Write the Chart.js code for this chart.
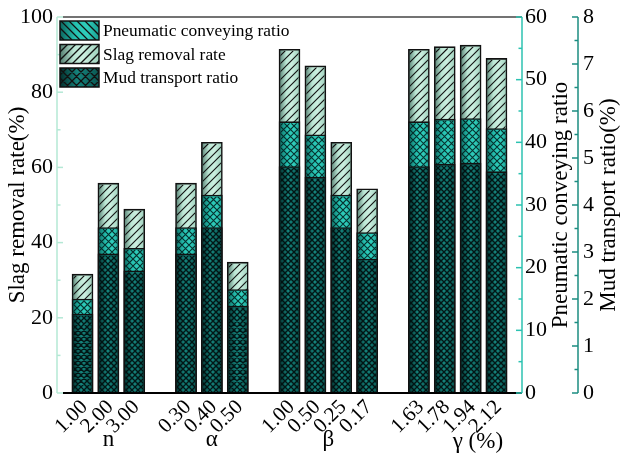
<!DOCTYPE html>
<html>
<head>
<meta charset="utf-8">
<script src="https://cdn.jsdelivr.net/npm/chart.js@4"></script>
<style>
  html, body { margin: 0; padding: 0; background: #fff; }
</style>
</head>
<body>
<canvas id="chart" width="620" height="459"></canvas>
<script>
// groups on the x axis and the tick labels inside each group
const groups = ['n', 'α', 'β', 'γ'];
const groupTicks = [
  ['1.00', '2.00', '3.00'],
  ['0.30', '0.40', '0.50'],
  ['1.00', '0.50', '0.25', '0.17'],
  ['1.63', '1.78', '1.94', '2.12']
];
// values, one per bar, in the same order
const slagRemoval = [31.6, 55.8, 48.9, 55.8, 66.7, 34.8, 91.4, 87.0, 66.7, 54.3, 91.4, 92.1, 92.5, 89.0];
const pneumaticRatio = [15.0, 26.4, 23.1, 26.4, 31.6, 16.5, 43.3, 41.2, 31.6, 25.6, 43.3, 43.7, 43.8, 42.2];
const mudRatio = [1.68, 2.96, 2.60, 2.96, 3.52, 1.85, 4.82, 4.59, 3.52, 2.85, 4.82, 4.87, 4.89, 4.71];

// bar positions: one empty slot between groups
const positions = [];
const tickLabels = [];
const groupCenters = [];
let p = 0;
groupTicks.forEach(g => {
  const start = p;
  g.forEach(t => { positions.push(p); tickLabels[p] = t; p++; });
  groupCenters.push((start + p - 1) / 2);
  p++;
});
const lastPos = p - 2;

const serif = 'Liberation Serif';

function barGradient(stops, flat) {
  return (c) => {
    if (c.type !== 'data' || !c.chart.chartArea) return flat;
    const x = c.chart.scales.x.getPixelForValue(c.parsed.x);
    const g = c.chart.ctx.createLinearGradient(x - 10.5, 0, x + 10.5, 0);
    stops.forEach(s => g.addColorStop(s[0], s[1]));
    return g;
  };
}

const slagStops = [[0, '#527b6e'], [0.35, '#bbe6d4'], [0.6, '#ccefe0'], [1, '#9dd0bc']];
const pneuStops = [[0, '#0c665e'], [0.4, '#25c2b1'], [0.7, '#30cdbb'], [1, '#199f91']];
const mudStops = [[0, '#032e2c'], [0.45, '#15837c'], [1, '#0a5752']];

const hatches = {
  slag: { dirs: ['/'], step: 8, color: '#111', width: 1.2 },
  pneu: { dirs: ['/', '\\'], step: 7, color: 'rgba(0,25,25,0.85)', width: 1.2 },
  mud: { dirs: ['/', '\\'], step: 6, color: 'rgba(0,10,10,0.88)', width: 1.3 }
};
const legendHatch = {
  slag: { dirs: ['/'], step: 8, color: '#111', width: 1.3 },
  pneu: { dirs: ['\\'], step: 8, color: '#111', width: 1.3 },
  mud: { dirs: ['/', '\\'], step: 9, color: '#111', width: 1.3 }
};

function drawHatch(ctx, l, t, r, b, h) {
  ctx.save();
  ctx.beginPath();
  ctx.rect(l, t, r - l, b - t);
  ctx.clip();
  ctx.strokeStyle = h.color;
  ctx.lineWidth = h.width;
  ctx.beginPath();
  h.dirs.forEach(d => {
    if (d === '/') {
      for (let c = Math.floor((l + t) / h.step) * h.step; c <= r + b; c += h.step) {
        ctx.moveTo(c - b, b); ctx.lineTo(c - t, t);
      }
    } else {
      for (let c = Math.floor((l - b) / h.step) * h.step; c <= r - t; c += h.step) {
        ctx.moveTo(c + b, b); ctx.lineTo(c + t, t);
      }
    }
  });
  ctx.stroke();
  ctx.restore();
}

const hatchPlugin = {
  id: 'hatch',
  afterDatasetDraw(chart, args) {
    const ds = chart.data.datasets[args.index];
    const h = hatches[ds.kind];
    const ctx = chart.ctx;
    args.meta.data.forEach(el => {
      if (el.skip) return;
      const bw = 1.5;
      const l = el.x - el.width / 2 + bw, r = el.x + el.width / 2 - bw;
      const t = Math.min(el.y, el.base) + bw, b = Math.max(el.y, el.base);
      drawHatch(ctx, l, t, r, b, h);
    });
  }
};

function line(ctx, x1, y1, x2, y2) {
  ctx.beginPath(); ctx.moveTo(x1, y1); ctx.lineTo(x2, y2); ctx.stroke();
}

function drawAxis(ctx, scale, x, major, minor, color, dir) {
  ctx.strokeStyle = color;
  ctx.lineWidth = 1.5;
  line(ctx, x, scale.getPixelForValue(scale.min), x, scale.getPixelForValue(scale.max));
  for (let v = scale.min; v <= scale.max + 1e-9; v += minor) {
    const y = scale.getPixelForValue(v);
    const isMajor = Math.abs(v / major - Math.round(v / major)) < 1e-6;
    line(ctx, x, y, x + dir * (isMajor ? 6 : 3.5), y);
  }
}

const decorPlugin = {
  id: 'decor',
  afterDraw(chart) {
    const { ctx, chartArea: a, scales } = chart;
    ctx.save();
    // frame lines
    ctx.strokeStyle = '#444'; ctx.lineWidth = 1.5;
    line(ctx, a.left, a.top, a.right, a.top);
    ctx.strokeStyle = '#000'; ctx.lineWidth = 2;
    line(ctx, a.left, a.bottom, a.right, a.bottom);
    // axes with inward ticks
    drawAxis(ctx, scales.y, a.left - 6, 20, 10, '#b4e8d5', 1);
    drawAxis(ctx, scales.y1, a.right, 10, 5, '#2cc2b1', -1);
    drawAxis(ctx, scales.y2, scales.y2.left, 1, 0.5, '#1b8c80', -1);

    // right axis titles, read bottom to top
    ctx.fillStyle = '#000';
    ctx.font = '23px "' + serif + '"';
    ctx.textAlign = 'center';
    ctx.textBaseline = 'middle';
    const midY = (a.top + a.bottom) / 2;
    [['Pneumatic conveying ratio', 561], ['Mud transport ratio(%)', 609]].forEach(tt => {
      ctx.save();
      ctx.translate(tt[1], midY);
      ctx.rotate(-Math.PI / 2);
      ctx.fillText(tt[0], 0, 0);
      ctx.restore();
    });

    // group names under the tick labels
    ctx.textBaseline = 'alphabetic';
    groups.forEach((g, i) => {
      const x = scales.x.getPixelForValue(groupCenters[i]);
      if (i === groups.length - 1) {
        ctx.textAlign = 'left';
        ctx.fillText(g + ' (%)', x - 5, 448);
      } else {
        ctx.textAlign = 'center';
        ctx.fillText(g, x, 446);
      }
    });

    // legend
    const items = [
      ['Pneumatic conveying ratio', 'pneu', pneuStops],
      ['Slag removal rate', 'slag', slagStops],
      ['Mud transport ratio', 'mud', mudStops]
    ];
    ctx.font = '17.4px "' + serif + '"';
    ctx.textAlign = 'left';
    ctx.textBaseline = 'middle';
    items.forEach((it, i) => {
      const bx = 60, by = 21 + i * 23.5, bw = 39, bh = 19;
      const g = ctx.createLinearGradient(bx, 0, bx + bw, 0);
      it[2].forEach(s => g.addColorStop(s[0], s[1]));
      ctx.fillStyle = g;
      ctx.fillRect(bx, by, bw, bh);
      drawHatch(ctx, bx, by, bx + bw, by + bh, legendHatch[it[1]]);
      ctx.strokeStyle = '#111'; ctx.lineWidth = 1.5;
      ctx.strokeRect(bx, by, bw, bh);
      ctx.fillStyle = '#000';
      ctx.fillText(it[0], 103, by + bh / 2 + 1);
    });
    ctx.restore();
  }
};

const tickFont = { family: serif, size: 22 };
// keep the tick-label overhang from pushing the plot top down
const fitWidth = w => s => { s.width = w; s.paddingTop = 0; };

new Chart(document.getElementById('chart'), {
  type: 'bar',
  data: {
    datasets: [
      {
        label: 'Pneumatic conveying ratio', kind: 'pneu', order: 2, yAxisID: 'y1',
        data: pneumaticRatio.map((v, i) => ({ x: positions[i], y: v })),
        backgroundColor: barGradient(pneuStops, '#27c5b4')
      },
      {
        label: 'Slag removal rate', kind: 'slag', order: 3, yAxisID: 'y',
        data: slagRemoval.map((v, i) => ({ x: positions[i], y: v })),
        backgroundColor: barGradient(slagStops, '#c3ebda')
      },
      {
        label: 'Mud transport ratio', kind: 'mud', order: 1, yAxisID: 'y2',
        data: mudRatio.map((v, i) => ({ x: positions[i], y: v })),
        backgroundColor: barGradient(mudStops, '#117570')
      }
    ]
  },
  options: {
    responsive: false,
    animation: false,
    grouped: false,
    barThickness: 21,
    borderColor: '#111',
    borderWidth: 1.6,
    layout: { padding: { top: 17, left: 0, right: 0, bottom: 0 } },
    plugins: { legend: { display: false }, tooltip: { enabled: false } },
    scales: {
      x: {
        type: 'linear',
        offset: false,
        min: -0.754,
        max: lastPos + 0.986,
        grid: { display: false, drawTicks: false },
        border: { display: false },
        afterBuildTicks: s => { s.ticks = positions.map(v => ({ value: v })); },
        ticks: {
          autoSkip: false, minRotation: 45, maxRotation: 45, padding: 2, labelOffset: 2,
          color: '#000', font: { family: serif, size: 21 },
          callback: v => tickLabels[v] || ''
        },
        afterFit: s => { s.height = 66; }
      },
      y: {
        position: 'left', min: 0, max: 100,
        grid: { display: false, drawTicks: false },
        border: { display: false },
        ticks: { stepSize: 20, padding: 10, color: '#000', font: tickFont },
        title: {
          display: true, text: 'Slag removal rate(%)', color: '#000',
          font: { family: serif, size: 23 }, padding: { top: 4, bottom: 0 }
        },
        afterFit: fitWidth(63)
      },
      y1: {
        position: 'right', min: 0, max: 60,
        grid: { display: false, drawTicks: false },
        border: { display: false },
        ticks: { stepSize: 10, padding: 3, color: '#000', font: tickFont },
        afterFit: fitWidth(56)
      },
      y2: {
        position: 'right', min: 0, max: 8,
        grid: { display: false, drawTicks: false },
        border: { display: false },
        ticks: { stepSize: 1, padding: 5, color: '#000', font: tickFont },
        afterFit: fitWidth(42)
      }
    }
  },
  plugins: [hatchPlugin, decorPlugin]
});
</script>
</body>
</html>
